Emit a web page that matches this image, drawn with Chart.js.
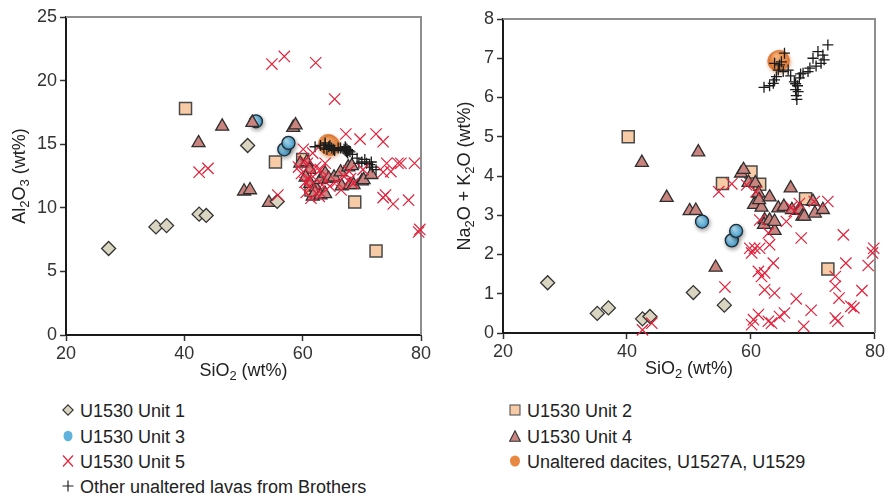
<!DOCTYPE html>
<html>
<head>
<meta charset="utf-8">
<script src="https://cdn.jsdelivr.net/npm/chart.js@4.4.0/dist/chart.umd.min.js"></script>
<style>
  body { margin: 0; background: #fff; }
  .wrap { position: relative; width: 887px; height: 495px; font-family: "Liberation Sans", Arial, sans-serif; color: #222; }
  #al-chart { position: absolute; left: 0; top: 0; }
  #alk-chart { position: absolute; left: 440px; top: 0; }
  .legend-item { position: absolute; height: 20px; line-height: 20px; font-size: 18px; white-space: nowrap; }
  .legend-item svg { position: absolute; left: -13px; top: 3px; }
  .legend-item span { position: absolute; left: 0; top: 0; }
</style>
</head>
<body>
<div class="wrap">
  <canvas id="al-chart" width="440" height="385"></canvas>
  <canvas id="alk-chart" width="447" height="385"></canvas>
  <div class="legend"></div>
</div>
<script>
// U1530 Unit 1
const unit1SiO2 = [27.2, 35.2, 37.0, 42.5, 43.7, 50.7, 55.7]
const unit1Al2O3 = [6.8, 8.5, 8.6, 9.5, 9.4, 14.9, 10.5]
const unit1Alk = [1.28, 0.5, 0.64, 0.36, 0.42, 1.03, 0.71]

// U1530 Unit 2
const unit2SiO2 = [40.2, 55.4, 60.0, 61.4, 68.8, 72.4]
const unit2Al2O3 = [17.8, 13.6, 13.8, 11.4, 10.45, 6.6]
const unit2Alk = [5.0, 3.81, 4.1, 3.79, 3.42, 1.63]

// U1530 Unit 3
const unit3SiO2 = [52.1, 56.9, 57.6]
const unit3Al2O3 = [16.8, 14.6, 15.1]
const unit3Alk = [2.84, 2.36, 2.6]

// U1530 Unit 4
const unit4SiO2 = [42.4, 46.4, 50.1, 51.1, 51.5, 54.3, 58.4, 58.8, 59.6, 60.7, 61.2, 60.5, 61.7, 61.3, 62.2, 62.1,
  63.0, 63.0, 63.8, 63.8, 64.4, 65.3, 66.4, 66.6, 67.7, 68.0, 68.3, 68.6, 70.0, 70.3, 71.6]
const unit4Al2O3 = [15.1, 16.4, 11.3, 11.4, 16.7, 10.4, 16.3, 16.5, 13.5, 13.6, 13.0, 12.4, 10.9, 11.9, 11.6, 11.2,
  11.0, 12.2, 11.1, 12.7, 12.3, 12.4, 12.8, 11.7, 13.2, 11.8, 13.3, 11.8, 12.1, 12.2, 12.6]
const unit4Alk = [4.34, 3.45, 3.11, 3.12, 4.61, 1.67, 4.07, 4.16, 3.83, 3.82, 3.56, 3.27, 3.2, 3.39, 2.88, 2.76,
  3.46, 2.87, 2.61, 2.84, 3.18, 3.22, 3.69, 3.14, 3.12, 3.14, 2.97, 2.97, 3.35, 3.05, 3.14]

// U1530 Unit 5
const unit5SiO2 = [42.5, 44.0, 54.8, 55.8, 56.9, 59.3, 59.8, 60.1, 60.1, 60.4, 60.6, 60.8, 61.2, 61.2, 61.4, 61.4,
  61.7, 62.2, 62.2, 62.8, 62.8, 63.0, 63.3, 63.6, 63.8, 64.6, 65.4, 65.7, 66.5, 67.0, 67.3, 67.8, 68.1, 68.5,
  69.7, 70.2, 72.4, 73.6, 73.6, 73.6, 74.0, 74.2, 74.9, 75.3, 76.1, 76.6, 77.9, 78.9, 79.6, 79.8]
const unit5Al2O3 = [12.8, 13.1, 21.3, 11.0, 21.9, 13.2, 12.7, 14.6, 13.6, 12.0, 11.2, 13.5, 11.7, 12.2, 12.6, 10.75,
  14.3, 21.4, 13.2, 11.3, 10.9, 13.0, 11.8, 12.4, 13.5, 11.7, 18.55, 12.05, 11.4, 12.45, 15.8, 12.9, 12.3, 11.9,
  15.4, 13.0, 15.8, 15.2, 12.8, 10.8, 11.0, 13.5, 12.85, 10.3, 13.5, 13.5, 10.6, 13.5, 8.1, 8.3]
const unit5Alk = [0.08, 0.25, 3.6, 1.17, 3.8, 3.77, 2.16, 2.04, 0.21, 0.34, 2.16, 3.6, 1.57, 0.47, 2.16, 2.88,
  1.44, 1.53, 1.1, 2.55, 0.3, 2.25, 0.25, 1.78, 1.02, 0.42, 0.51, 2.84, 3.2, 3.1, 0.87, 3.3, 2.42, 0.17,
  0.58, 3.35, 3.35, 1.44, 1.19, 0.38, 0.3, 0.89, 2.5, 1.78, 0.68, 0.64, 1.08, 1.72, 2.04, 2.16]

// Unaltered dacites, U1527A, U1529
const daciteSiO2 = [64.3, 64.6]
const daciteAl2O3 = [15.0, 14.9]
const daciteAlk = [6.93, 6.95]

// Other unaltered lavas from Brothers
const brothersSiO2 = [62.1, 63.0, 63.6, 63.8, 64.1, 64.4, 64.6, 64.9, 65.4, 63.8, 65.2, 66.0, 66.4, 67.0, 67.2, 67.3,
  67.4, 67.5, 67.6, 67.8, 67.2, 68.0, 68.4, 69.2, 70.0, 70.8, 71.3, 71.8, 72.4, 71.6, 70.5, 69.5]
const brothersAl2O3 = [14.8, 14.9, 14.7, 15.0, 14.6, 14.8, 14.9, 14.7, 14.5, 15.1, 14.6, 14.7, 14.7, 14.6, 14.5, 14.7,
  14.4, 14.6, 14.3, 14.5, 14.8, 14.4, 14.2, 13.9, 13.6, 13.5, 13.4, 13.2, 13.0, 13.6, 13.8, 13.5]
const brothersAlk = [6.26, 6.3, 6.36, 6.45, 6.53, 6.7, 6.83, 6.91, 7.13, 6.87, 6.66, 6.7, 6.55, 6.4, 6.2, 6.05,
  5.95, 6.3, 6.15, 6.5, 6.35, 6.6, 6.62, 6.66, 7.0, 7.17, 6.87, 6.96, 7.34, 7.08, 6.8, 6.75]

const siO2Title = [{ t: 'SiO' }, { t: '2', sub: true }, { t: ' (wt%)' }]
const al2O3Title = [{ t: 'Al' }, { t: '2', sub: true }, { t: 'O' }, { t: '3', sub: true }, { t: ' (wt%)' }]
const alkTitle = [{ t: 'Na' }, { t: '2', sub: true }, { t: 'O + K' }, { t: '2', sub: true }, { t: 'O (wt%)' }]

const legendItems = [
  { icon: 'diamond', label: 'U1530 Unit 1', col: 0, row: 0 },
  { icon: 'blue', label: 'U1530 Unit 3', col: 0, row: 1 },
  { icon: 'x', label: 'U1530 Unit 5', col: 0, row: 2 },
  { icon: 'plus', label: 'Other unaltered lavas from Brothers', col: 0, row: 3 },
  { icon: 'square', label: 'U1530 Unit 2', col: 1, row: 0 },
  { icon: 'triangle', label: 'U1530 Unit 4', col: 1, row: 1 },
  { icon: 'orange', label: 'Unaltered dacites, U1527A, U1529', col: 1, row: 2 }
]

const FONT = '"Liberation Sans", Arial, sans-serif'
const RED = '#e3213b'

function points(xs, ys) {
  return xs.map((x, i) => ({ x: x, y: ys[i] }))
}

// radial shading for the round markers, computed per point from the scales
function shaded(light, dark, radius) {
  return (c) => {
    const chart = c.chart
    const xs = chart.scales.x
    const ys = chart.scales.y
    if (!c.raw || !xs || !ys || !xs.width) return dark
    const px = xs.getPixelForValue(c.raw.x)
    const py = ys.getPixelForValue(c.raw.y)
    const g = chart.ctx.createRadialGradient(px - radius * 0.35, py - radius * 0.4, 0.5, px, py, radius)
    g.addColorStop(0, light)
    g.addColorStop(1, dark)
    return g
  }
}

function drawRich(ctx, parts, cx, cy, angle) {
  const big = '18px ' + FONT
  const small = '13px ' + FONT
  let total = 0
  for (const p of parts) {
    ctx.font = p.sub ? small : big
    total += ctx.measureText(p.t).width
  }
  ctx.save()
  ctx.translate(cx, cy)
  ctx.rotate(angle)
  ctx.textBaseline = 'middle'
  ctx.textAlign = 'left'
  ctx.fillStyle = '#222'
  let x = -total / 2
  for (const p of parts) {
    ctx.font = p.sub ? small : big
    ctx.fillText(p.t, x, p.sub ? 5 : 0)
    x += ctx.measureText(p.t).width
  }
  ctx.restore()
}

// gray top/right frame and the axis titles with subscripts
const framePlugin = {
  id: 'frame',
  beforeDatasetsDraw(chart) {
    const { ctx, chartArea: a } = chart
    ctx.save()
    ctx.strokeStyle = '#8e8e8e'
    ctx.lineWidth = 2
    ctx.beginPath()
    ctx.moveTo(a.left, a.top)
    ctx.lineTo(a.right, a.top)
    ctx.lineTo(a.right, a.bottom)
    ctx.stroke()
    ctx.restore()
  },
  beforeDatasetDraw(chart, args) {
    const ds = chart.data.datasets[args.index]
    if (ds.shadow) {
      chart.ctx.save()
      chart.ctx.shadowColor = ds.shadow
      chart.ctx.shadowBlur = 4
      chart.ctx.shadowOffsetX = 1
      chart.ctx.shadowOffsetY = 2
    }
  },
  afterDatasetDraw(chart, args) {
    if (chart.data.datasets[args.index].shadow) chart.ctx.restore()
  },
  afterDraw(chart, args, opts) {
    const a = chart.chartArea
    drawRich(chart.ctx, siO2Title, (a.left + a.right) / 2, a.bottom + 36, 0)
    drawRich(chart.ctx, opts.yTitle, opts.yTitleX, (a.top + a.bottom) / 2, -Math.PI / 2)
  }
}

function makeChart(id, yValues, yMax, yStep, box) {
  const datasets = [
    {
      label: 'U1530 Unit 5', data: points(unit5SiO2, yValues.unit5),
      pointStyle: 'crossRot', pointRadius: 8, borderColor: RED, pointBorderWidth: 1.2
    },
    {
      label: 'Other unaltered lavas from Brothers', data: points(brothersSiO2, yValues.brothers),
      pointStyle: 'cross', pointRadius: 5.5, borderColor: '#1c1c1c', pointBorderWidth: 1.3
    },
    {
      label: 'U1530 Unit 1', data: points(unit1SiO2, yValues.unit1),
      pointStyle: 'rectRot', pointRadius: 7, backgroundColor: '#d9d5c0', borderColor: '#333', pointBorderWidth: 1.3
    },
    {
      label: 'U1530 Unit 4', data: points(unit4SiO2, yValues.unit4),
      pointStyle: 'triangle', pointRadius: 7.5, backgroundColor: '#c9847f', borderColor: '#2e2e2e', pointBorderWidth: 1.3
    },
    {
      label: 'U1530 Unit 2', data: points(unit2SiO2, yValues.unit2),
      pointStyle: 'rect', pointRadius: 8.5, backgroundColor: '#f7cba6', borderColor: '#4a4a4a', pointBorderWidth: 1.5
    },
    {
      label: 'U1530 Unit 3', data: points(unit3SiO2, yValues.unit3), shadow: 'rgba(0,0,0,0.35)',
      pointStyle: 'circle', pointRadius: 6.5, backgroundColor: shaded('#b4e2f6', '#3e9acb', 7),
      borderColor: '#1c2a33', pointBorderWidth: 1.3
    },
    {
      label: 'Unaltered dacites, U1527A, U1529', data: points(daciteSiO2, yValues.dacite), shadow: 'rgba(200,100,30,0.4)',
      pointStyle: 'circle', pointRadius: 10, backgroundColor: shaded('#f7b57a', '#dd7430', 11),
      borderColor: 'rgba(205,105,40,0.5)', pointBorderWidth: 1
    }
  ]
  datasets.forEach(ds => { ds.clip = false })

  return new Chart(document.getElementById(id), {
    type: 'scatter',
    data: { datasets: datasets },
    options: {
      responsive: false,
      animation: false,
      events: [],
      layout: { padding: { top: box.top, right: box.right, left: 0, bottom: 0 } },
      plugins: {
        legend: { display: false },
        tooltip: { enabled: false },
        frame: { yTitle: box.yTitle, yTitleX: box.yTitleX }
      },
      scales: {
        x: {
          min: 20, max: 80,
          afterFit: (s) => { s.height = box.xHeight },
          ticks: { stepSize: 20, color: '#333', font: { family: FONT, size: 18 }, padding: 2 },
          grid: { drawOnChartArea: false, drawTicks: true, tickLength: 6, color: '#333', tickWidth: 1.5 },
          border: { display: true, color: '#1a1a1a', width: 2 }
        },
        y: {
          min: 0, max: yMax,
          afterFit: (s) => { s.width = box.yWidth },
          ticks: { stepSize: yStep, color: '#333', font: { family: FONT, size: 18 }, padding: 3 },
          grid: { drawOnChartArea: false, drawTicks: true, tickLength: 6, color: '#333', tickWidth: 1.5 },
          border: { display: true, color: '#1a1a1a', width: 2 }
        }
      }
    },
    plugins: [framePlugin]
  })
}

const alChart = makeChart('al-chart', {
  unit1: unit1Al2O3, unit2: unit2Al2O3, unit3: unit3Al2O3, unit4: unit4Al2O3,
  unit5: unit5Al2O3, dacite: daciteAl2O3, brothers: brothersAl2O3
}, 25, 5, { top: 17, right: 19, xHeight: 50, yWidth: 66, yTitle: al2O3Title, yTitleX: 20 })

const alkChart = makeChart('alk-chart', {
  unit1: unit1Alk, unit2: unit2Alk, unit3: unit3Alk, unit4: unit4Alk,
  unit5: unit5Alk, dacite: daciteAlk, brothers: brothersAlk
}, 8, 1, { top: 19, right: 9, xHeight: 52, yWidth: 63, yTitle: alkTitle, yTitleX: 25 })

// legend below both panels
const icons = {
  diamond: '<polygon points="6,0.8 11.2,6 6,11.2 0.8,6" fill="#d9d5c0" stroke="#333" stroke-width="1.1"/>',
  square: '<rect x="1" y="1" width="10" height="10" fill="#f7cba6" stroke="#555" stroke-width="1.1"/>',
  blue: '<ellipse cx="6" cy="6" rx="4.5" ry="5.2" fill="#5fb2dc"/>',
  triangle: '<polygon points="6,0.8 11.3,11.2 0.7,11.2" fill="#c9847f" stroke="#333" stroke-width="1.1"/>',
  x: '<path d="M1,0.5 L11,11.5 M11,0.5 L1,11.5" stroke="' + RED + '" stroke-width="1.2"/>',
  orange: '<ellipse cx="6" cy="6" rx="5" ry="5.5" fill="#e8873f"/>',
  plus: '<path d="M6,0.5 L6,11.5 M0.5,6 L11.5,6" stroke="#222" stroke-width="1.2"/>'
}
const legend = document.querySelector('.legend')
const colLeft = [80, 527]
const rowTop = [401, 427, 452, 477]
legendItems.forEach(item => {
  legend.innerHTML += `<div class="legend-item" style="left:${colLeft[item.col]}px;top:${rowTop[item.row]}px">
    <svg width="12" height="12" viewBox="0 0 12 12" style="left:-18px">${icons[item.icon]}</svg>
    <span>${item.label}</span></div>`
})
</script>
</body>
</html>
